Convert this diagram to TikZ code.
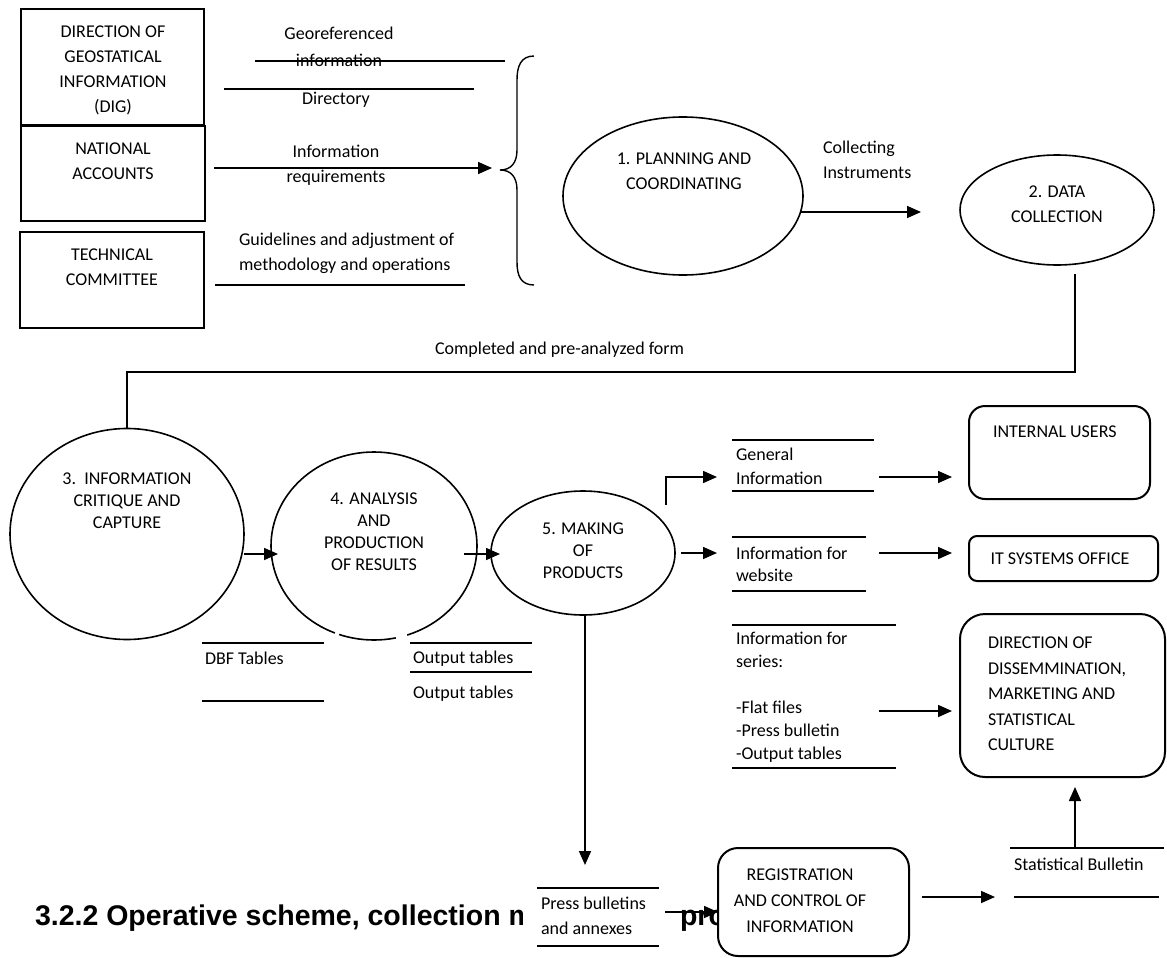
\documentclass[tikz,border=0pt]{standalone}
\usepackage{fontspec}
\setmainfont{Carlito}
\newfontfamily\headfont{Liberation Sans}
\usetikzlibrary{arrows.meta,shapes.geometric}
\begin{document}
\begin{tikzpicture}[x=1pt,y=-1pt, line width=1.5pt,
  every node/.style={inner sep=0pt, outer sep=0pt},
  txt/.style={font=\fontsize{18}{25}\selectfont, align=center},
  etxt/.style={font=\fontsize{18}{22}\selectfont, align=center},
  ltxt/.style={font=\fontsize{18}{25}\selectfont, align=left, anchor=west},
  sqbox/.style={draw, line width=2pt, anchor=north west},
  rbox/.style={draw, line width=2pt, anchor=north west, fill=white},
  ell/.style={draw, ellipse, line width=1.6pt},
  arr/.style={-{Triangle[length=14pt,width=12pt]}, line width=1.6pt},
  store/.style={line width=2pt},
  heading/.style={font=\fontsize{28.5}{33}\selectfont\headfont\bfseries, anchor=base west}
]
\useasboundingbox (0,0) rectangle (1167,958);

% heading (partly hidden behind the boxes)
\node[heading] (h1) at (35,925) {3.2.2 Operative scheme, collection m};
\node[fill=white, anchor=north west, minimum width=155pt, minimum height=76pt] (pbbg) at (523,880) {};
\node[heading] (h2) at (680,925) {pro};

% sources
\node[sqbox, minimum width=183pt, minimum height=116pt] (dig) at (21,9) {};
\node[sqbox, minimum width=184pt, minimum height=95pt] (na) at (21,126) {};
\node[sqbox, minimum width=184pt, minimum height=96pt] (tc) at (20,232) {};
\node[txt] (digt) at (113,70) {DIRECTION OF\\GEOSTATICAL\\INFORMATION\\(DIG)};
\node[txt] (nat) at (113,161) {NATIONAL\\ACCOUNTS};
\node[txt] (tct) at (112,267) {TECHNICAL\\COMMITTEE};

\node[txt, font=\fontsize{18}{27}\selectfont] (geo) at (339,47) {Georeferenced\\information};
\node[txt] (dir) at (336,100) {Directory};
\node[txt] (ireq) at (336,165) {Information\\requirements};
\node[ltxt] (guide) at (239,253) {Guidelines and adjustment of\\methodology and operations};

\draw[store] (255,61) -- (505,61);
\draw[store] (224,89) -- (474,89);
\coordinate (irS) at (214,168);
\coordinate (irE) at (492,168);
\draw[arr] (irS) -- (irE);
\draw[store] (215,285) -- (465,285);

% brace
\draw[line width=1.4pt] (534,56) .. controls (521,56) and (517,66) .. (517,80) -- (517,150)
  .. controls (517,163) and (511,170) .. (500,170)
  .. controls (511,170) and (517,177) .. (517,190) -- (517,262)
  .. controls (517,276) and (521,285) .. (534,285);

% process 1 and 2
\node[ell, minimum width=240pt, minimum height=158pt] (e1) at (683,196) {};
\node[txt] (e1t) at (684,171) {1. PLANNING AND\\COORDINATING};
\coordinate (c1a) at (801,212);
\coordinate (c1b) at (921,212);
\draw[arr] (c1a) -- (c1b);
\node[ltxt] (coll) at (823,160) {Collecting\\Instruments};
\node[ell, minimum width=194pt, minimum height=110pt] (e2) at (1057,210) {};
\node[txt] (e2t) at (1057,204) {2. DATA\\COLLECTION};

% feedback to 3
\node[ell, minimum width=234pt, minimum height=211pt] (e3) at (127,534) {};
\node[etxt] (e3t) at (127,501) {3.\ \ INFORMATION\\CRITIQUE AND\\CAPTURE};
\coordinate (c2) at (1075,274);
\coordinate (c3) at (127,372);
\draw[line width=1.6pt] (c2) |- (c3) -- (e3.north);
\node[ltxt] (comp) at (435,350) {Completed and pre-analyzed form};

% process 4
\node[ell, minimum width=206pt, minimum height=188pt] (e4) at (374,546) {};
\draw[white, line width=4pt] (335,632.9) -- (339,634.4);
\draw[white, line width=4pt] (396,637.8) -- (407,635.0);
\node[etxt] (e4t) at (374,532) {4. ANALYSIS\\AND\\PRODUCTION\\OF RESULTS};
\coordinate (c34a) at (244,554);
\coordinate (c34b) at (278,554);
\draw[arr] (c34a) -- (c34b);

% process 5
\node[ell, minimum width=184pt, minimum height=124pt] (e5) at (583,553) {};
\node[etxt] (e5t) at (583,551) {5. MAKING\\OF\\PRODUCTS};
\coordinate (c45a) at (464,554);
\coordinate (c45b) at (500,554);
\draw[arr] (c45a) -- (c45b);

% stores under 3/4
\draw[store] (202,643) -- (324,643);
\draw[store] (202,701) -- (324,701);
\node[ltxt] (dbf) at (205,658) {DBF Tables};
\draw[store] (410,643) -- (532,643);
\draw[store] (410,672) -- (532,672);
\node[ltxt] (out1) at (413,659) {Output tables};
\node[ltxt] (out2) at (413,694) {Output tables};

% receivers
\node[rbox, rounded corners=16pt, minimum width=181pt, minimum height=93pt] (iu) at (969,406) {};
\node[ltxt] (iut) at (993,432) {INTERNAL USERS};
\node[rbox, rounded corners=8pt, minimum width=189pt, minimum height=45pt] (it) at (969,536) {};
\node[txt] (itt) at (1060,559) {IT SYSTEMS OFFICE};
\node[rbox, rounded corners=25pt, minimum width=205pt, minimum height=163pt] (dd) at (960,614) {};
\node[ltxt, font=\fontsize{18}{25.5}\selectfont] (ddt) at (988,694) {DIRECTION OF\\DISSEMMINATION,\\MARKETING AND\\STATISTICAL\\CULTURE};

% outputs of 5
\coordinate (b1) at (666,505);
\coordinate (b2) at (717,477);
\draw[arr] (b1) |- (b2);
\coordinate (w1) at (681,553);
\coordinate (w2) at (717,553);
\draw[arr] (w1) -- (w2);

\draw[store] (732,440) -- (874,440);
\draw[store] (732,491) -- (874,491);
\node[ltxt, font=\fontsize{18}{24}\selectfont] (gen) at (736,466) {General\\Information};
\coordinate (g1) at (879,477);
\coordinate (g2) at (952,477);
\draw[arr] (g1) -- (g2);

\draw[store] (732,537) -- (866,537);
\draw[store] (732,591) -- (866,591);
\node[ltxt, font=\fontsize{18}{22}\selectfont] (web) at (736,564) {Information for\\website};
\coordinate (ws1) at (879,553);
\coordinate (ws2) at (952,553);
\draw[arr] (ws1) -- (ws2);

\draw[store] (732,625) -- (896,625);
\draw[store] (732,768) -- (896,768);
\node[ltxt, font=\fontsize{18}{23}\selectfont] (ser) at (736,697) {Information for\\series:\\\strut\\-Flat files\\-Press bulletin\\-Output tables};
\coordinate (s1) at (879,711);
\coordinate (s2) at (952,711);
\draw[arr] (s1) -- (s2);

% press bulletins
\coordinate (e5s) at (585,615);
\coordinate (pbin) at (585,865);
\draw[arr] (e5s) -- (pbin);
\draw[store] (537,888) -- (659,888);
\draw[store] (537,946) -- (659,946);
\node[ltxt, font=\fontsize{18}{25}\selectfont] (pb) at (541,916) {Press bulletins\\and annexes};

% registration
\node[rbox, rounded corners=20pt, minimum width=191pt, minimum height=108pt] (reg) at (718,848) {};
\node[txt, font=\fontsize{18}{26}\selectfont] (regt) at (800,901) {REGISTRATION\\AND CONTROL OF\\INFORMATION};
\coordinate (pbout) at (665,912);
\draw[arr] (pbout) -- (reg.west |- pbout);

% statistical bulletin
\coordinate (r1) at (922,897);
\coordinate (r2) at (995,897);
\draw[arr] (r1) -- (r2);
\draw[store] (1010,848) -- (1164,848);
\draw[store] (1014,897) -- (1159,897);
\node[ltxt] (sb) at (1014,864) {Statistical Bulletin};
\coordinate (sbup) at (1075,848);
\coordinate (sbtop) at (1075,787);
\draw[arr] (sbup) -- (sbtop);
\end{tikzpicture}
\end{document}
